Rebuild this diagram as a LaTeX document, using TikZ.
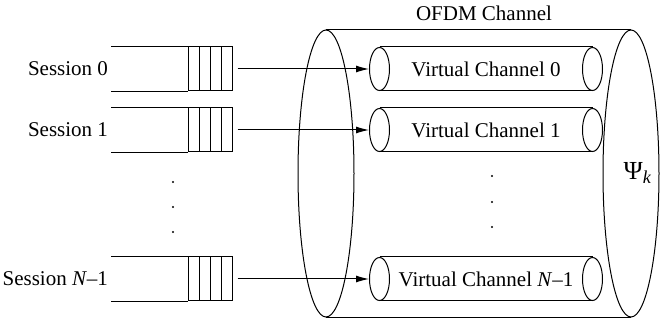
\documentclass[tikz,border=0pt]{standalone}
\usepackage{fontspec}
\setmainfont{Liberation Serif}
\usetikzlibrary{positioning,shapes.geometric,arrows.meta}

\begin{document}
\begin{tikzpicture}[x=0.5pt,y=0.5pt,line width=0.5pt,
font=\fontsize{10.5}{12}\selectfont,
queue/.style={draw,rectangle,minimum width=22pt,minimum height=22pt,inner sep=0pt,
    path picture={
    \draw ([xshift=5.5pt]path picture bounding box.north west) -- ([xshift=5.5pt]path picture bounding box.south west);
    \draw ([xshift=11pt]path picture bounding box.north west) -- ([xshift=11pt]path picture bounding box.south west);
    \draw ([xshift=16.5pt]path picture bounding box.north west) -- ([xshift=16.5pt]path picture bounding box.south west);
    }},
vchan/.style={rectangle,minimum width=106pt,minimum height=21.5pt,inner sep=0pt},
vend/.style={draw,ellipse,minimum width=10pt,minimum height=21.5pt,inner sep=0pt},
outend/.style={draw,ellipse,minimum width=28pt,minimum height=143.5pt,inner sep=0pt},
feed/.style={-{Latex[length=6.5pt,width=3.5pt]},shorten <=2.5pt}]
\useasboundingbox (0,0) rectangle (660,321);

% OFDM channel
\node (outl) [outend] at (326,147.5) {};
\node (outr) [outend] at (631,147.5) {};
\draw (outl.north) -- (outr.north)
      (outl.south) -- (outr.south);
\node (ofdm) at (484,308) {OFDM Channel};
\node (psi) at (638,148) {\fontsize{13}{14}\selectfont Ψ\textsubscript{\textit{k}}};

% virtual channels
\node (vc0) [vchan] at (486,252) {Virtual Channel 0};
\node (vc0l) [vend] at (vc0.west) {};
\node (vc0r) [vend] at (vc0.east) {};
\draw (vc0.north west) -- (vc0.north east)
      (vc0.south west) -- (vc0.south east);

\node (vc1) [vchan] at (486,191) {Virtual Channel 1};
\node (vc1l) [vend] at (vc1.west) {};
\node (vc1r) [vend] at (vc1.east) {};
\draw (vc1.north west) -- (vc1.north east)
      (vc1.south west) -- (vc1.south east);

\node (vcn) [vchan] at (486,42) {Virtual Channel \textit{N}–1};
\node (vcnl) [vend] at (vcn.west) {};
\node (vcnr) [vend] at (vcn.east) {};
\draw (vcn.north west) -- (vcn.north east)
      (vcn.south west) -- (vcn.south east);

% sessions
\node (q0) [queue] at (210,252) {};
\draw (q0.north west) -- ++(-77,0)
      (q0.south west) -- ++(-77,0);
\node (s0) [left=38.5pt of q0,inner sep=1pt] {Session 0};

\node (q1) [queue] at (210,191) {};
\draw (q1.north west) -- ++(-77,0)
      (q1.south west) -- ++(-77,0);
\node (s1) [left=38.5pt of q1,inner sep=1pt] {Session 1};

\node (qn) [queue] at (210,42) {};
\draw (qn.north west) -- ++(-77,0)
      (qn.south west) -- ++(-77,0);
\node (sn) [left=38.5pt of qn,inner sep=1pt] {Session \textit{N}–1};

\draw[feed] (q0) -- (vc0l);
\draw[feed] (q1) -- (vc1l);
\draw[feed] (qn) -- (vcnl);

% dots
\fill (173,139) circle (0.6pt) (173,114) circle (0.6pt) (173,89) circle (0.6pt);
\fill (492,145) circle (0.6pt) (492,119) circle (0.6pt) (492,94) circle (0.6pt);
\end{tikzpicture}
\end{document}
